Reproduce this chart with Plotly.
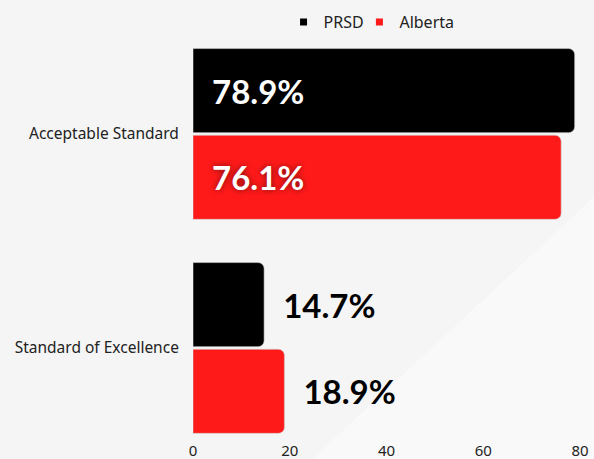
import plotly.graph_objects as go

categories = ["Acceptable Standard", "Standard of Excellence"]
prsd = [78.9, 14.7]
alberta = [76.1, 18.9]
series_names = ["PRSD", "Alberta"]
x_ticks = [0, 20, 40, 60, 80]

colors = ["#000000", "#ff1a1a"]
legend_ids = ["legend", "legend2"]
pad = "\u00a0" * 2


def text_pos(vals):
    return ["inside" if v > 40 else "outside" for v in vals]


def text_col(vals):
    return ["#ffffff" if v > 40 else "#000000" for v in vals]


def labels(vals):
    return [f"{pad}{v:.1f}%" for v in vals]


fig = go.Figure()
for name, vals, col, leg in zip(series_names, [prsd, alberta], colors, legend_ids):
    fig.add_trace(go.Bar(
        y=categories, x=vals, name=name, orientation="h", showlegend=False,
        marker=dict(color=col, cornerradius=6, line=dict(color="#d0d0d0", width=0.6)),
        text=labels(vals), textposition=text_pos(vals),
        insidetextanchor="start", cliponaxis=False,
        textfont=dict(family="Lato", size=33, color=text_col(vals), weight="bold",
                      shadow="0px 0px 6px rgba(0,0,0,0.55)"),
        outsidetextfont=dict(family="Lato", size=33, color="#000000", weight="bold", shadow="none"),
    ))
    # legend-only entry with a small square marker
    fig.add_trace(go.Scatter(
        x=[None], y=[None], mode="markers", name=name, legend=leg,
        marker=dict(symbol="square", size=7, color=col),
    ))

# faint diagonal light band in the background
fig.add_shape(type="path", xref="paper", yref="paper", layer="below",
              path="M 0.25 -0.1 L 1.05 0.62 L 1.05 -0.1 Z",
              fillcolor="rgba(255,255,255,0.45)", line=dict(width=0))

leg_style = dict(orientation="h", xanchor="left", y=1.045, yanchor="middle",
                 font=dict(size=16, color="#222222"), itemwidth=30,
                 bgcolor="rgba(0,0,0,0)")

fig.update_layout(
    width=594, height=459,
    paper_bgcolor="#f5f5f5", plot_bgcolor="rgba(0,0,0,0)",
    font=dict(family="Noto Sans", color="#222222", size=14),
    margin=dict(l=193, r=14, t=40, b=19, autoexpand=False),
    barmode="group", bargap=0.19, bargroupgap=0.03,
    showlegend=True,
    legend=dict(x=0.234, **leg_style),
    legend2=dict(x=0.43, **leg_style),
)
fig.update_xaxes(range=[0, 80], tickvals=x_ticks, showgrid=False, zeroline=False,
                 showline=False, tickfont=dict(size=15, color="#222222"),
                 ticks="", automargin=False)
fig.update_yaxes(range=[1.430, -0.439], showgrid=False, zeroline=False, showline=False,
                 tickfont=dict(size=15.5, color="#222222"), automargin=False,
                 ticks="outside", ticklen=10, tickcolor="rgba(0,0,0,0)")

fig.write_html("out.html", config={"displayModeBar": False},
               post_script="document.body.style.margin='0';")
